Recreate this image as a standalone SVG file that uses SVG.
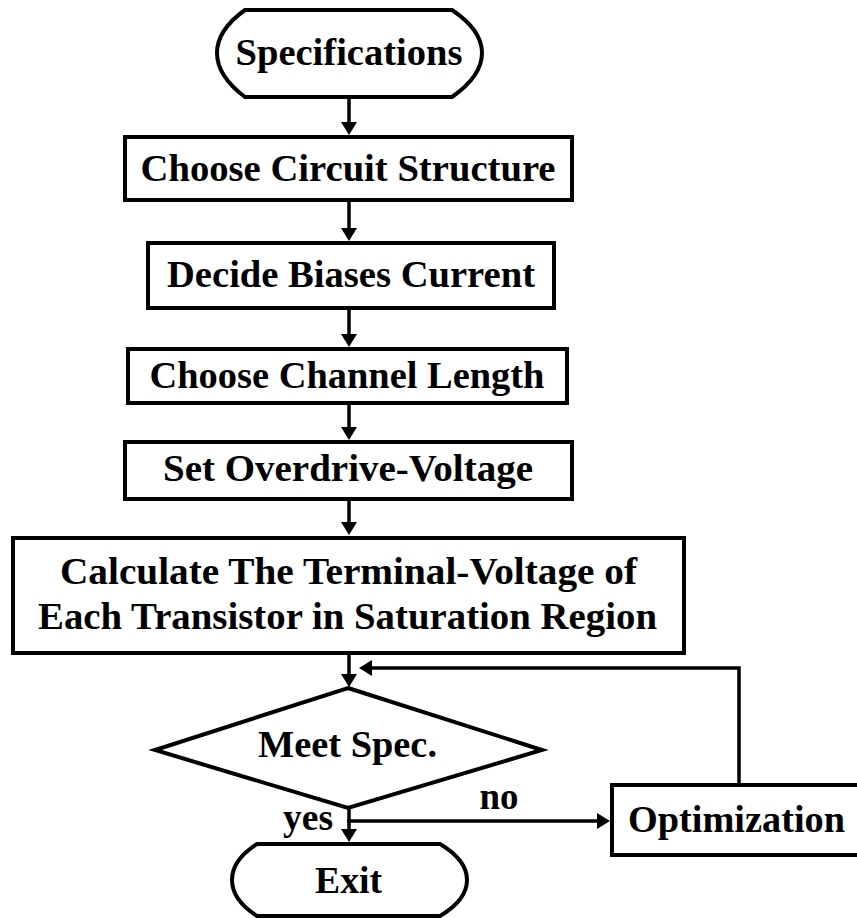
<svg xmlns="http://www.w3.org/2000/svg" width="857" height="918" viewBox="0 0 857 918">
<style>
.shape{fill:#fff;stroke:#000;stroke-width:4;stroke-linejoin:miter}
.conn{fill:none;stroke:#000;stroke-width:3.5}
.t{font-family:"Liberation Serif","Times New Roman",serif;font-weight:bold;font-size:37px;fill:#000;text-anchor:middle}
</style>
<defs>
<marker id="arr" markerUnits="userSpaceOnUse" viewBox="0 0 13 16" markerWidth="13" markerHeight="16" refX="9" refY="8" orient="auto">
<path d="M0,0 L13,8 L0,16 z" fill="#000"/>
</marker>
</defs>
<rect width="857" height="918" fill="#fff"/>
<g id="connectors">
<line class="conn" x1="349" y1="97" x2="349" y2="131" marker-end="url(#arr)"/>
<line class="conn" x1="349" y1="200" x2="349" y2="237" marker-end="url(#arr)"/>
<line class="conn" x1="349" y1="308" x2="349" y2="343" marker-end="url(#arr)"/>
<line class="conn" x1="349" y1="403" x2="349" y2="436" marker-end="url(#arr)"/>
<line class="conn" x1="349" y1="499" x2="349" y2="531" marker-end="url(#arr)"/>
<line class="conn" x1="349" y1="653" x2="349" y2="683" marker-end="url(#arr)"/>
<line class="conn" x1="349" y1="808" x2="349" y2="838" marker-end="url(#arr)"/>
<polyline class="conn" points="739,785 739,668 363,668" marker-end="url(#arr)"/>
<line class="conn" x1="347" y1="821" x2="606" y2="821" marker-end="url(#arr)"/>
<text class="t" x="308" y="830" textLength="50" lengthAdjust="spacingAndGlyphs">yes</text>
<text class="t" x="499" y="809" textLength="39" lengthAdjust="spacingAndGlyphs">no</text>
</g>
<g id="n-spec">
<path class="shape" d="M245,10 L452,10 Q482,30 482,53 Q482,76 452,97 L245,97 Q217,76 217,53 Q217,30 245,10 Z"/>
<text class="t" x="349" y="65" textLength="227" lengthAdjust="spacingAndGlyphs">Specifications</text>
</g>
<g id="n-circuit">
<rect class="shape" x="125" y="137" width="447" height="63"/>
<text class="t" x="348" y="181" textLength="415" lengthAdjust="spacingAndGlyphs">Choose Circuit Structure</text>
</g>
<g id="n-bias">
<rect class="shape" x="148" y="243" width="406" height="65"/>
<text class="t" x="351" y="287" textLength="368" lengthAdjust="spacingAndGlyphs">Decide Biases Current</text>
</g>
<g id="n-length">
<rect class="shape" x="128" y="349" width="439" height="54"/>
<text class="t" x="347" y="388" textLength="395" lengthAdjust="spacingAndGlyphs">Choose Channel Length</text>
</g>
<g id="n-overdrive">
<rect class="shape" x="125" y="442" width="447" height="57"/>
<text class="t" x="348" y="481" textLength="370" lengthAdjust="spacingAndGlyphs">Set Overdrive-Voltage</text>
</g>
<g id="n-calc">
<rect class="shape" x="13" y="538" width="671" height="115"/>
<text class="t" x="348.5" y="584" font-size="39" textLength="577" lengthAdjust="spacingAndGlyphs">Calculate The Terminal-Voltage of</text>
<text class="t" x="347.5" y="629" font-size="39" textLength="619" lengthAdjust="spacingAndGlyphs">Each Transistor in Saturation Region</text>
</g>
<g id="n-meet">
<polygon class="shape" points="348,688 542,750 348,808 155,750"/>
<text class="t" x="347.5" y="757" textLength="179" lengthAdjust="spacingAndGlyphs">Meet Spec.</text>
</g>
<g id="n-opt">
<rect class="shape" x="612" y="785" width="260" height="70"/>
<text class="t" x="736.5" y="832" font-size="38" textLength="217" lengthAdjust="spacingAndGlyphs">Optimization</text>
</g>
<g id="n-exit">
<path class="shape" d="M257,844 L440,844 Q467,860 467,880 Q467,900 440,916 L257,916 Q232,900 232,880 Q232,860 257,844 Z"/>
<text class="t" x="348.5" y="893" textLength="67" lengthAdjust="spacingAndGlyphs">Exit</text>
</g>
</svg>
